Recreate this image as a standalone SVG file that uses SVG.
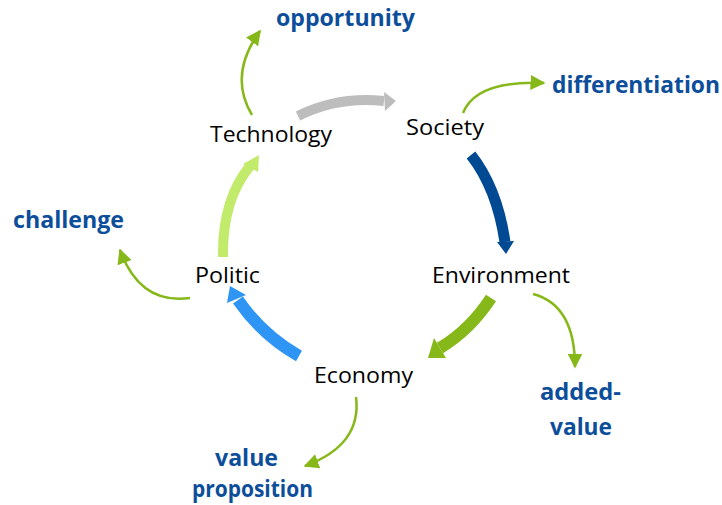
<svg xmlns="http://www.w3.org/2000/svg" width="722" height="505" viewBox="0 0 722 505">
<style>
.n{font-family:"Open Sans","Liberation Sans",sans-serif;font-size:21.5px;fill:#000}
.o{font-family:"Open Sans","Liberation Sans",sans-serif;font-size:23px;font-weight:bold;fill:#0D4E9B}
.thin{fill:none;stroke:#86B81A;stroke-width:2.5}
.thick{fill:none}
</style>
<defs>
<marker id="ht" viewBox="0 0 10 10" refX="9" refY="5" markerWidth="6" markerHeight="6" orient="auto" markerUnits="strokeWidth"><path d="M0,0 L10,5 L0,10 z" fill="#86B81A"/></marker>
</defs>
<rect width="722" height="505" fill="#fff"/>
<g id="connectors">
<path d="M298,116 Q338,96 384,101" stroke="#BDBDBD" stroke-width="10" class="thick"/>
<polygon points="384,92 396,101 385,111" fill="#BDBDBD"/>
<path d="M471,155 Q497,188 505,242" stroke="#004A94" stroke-width="11" class="thick"/>
<polygon points="497,242 514,241 506,254" fill="#004A94"/>
<path d="M491,298 Q470,330 440,348" stroke="#86B81A" stroke-width="12" class="thick"/>
<polygon points="434,338 446,358 428,358" fill="#86B81A"/>
<path d="M299,356 Q262,335 238,300" stroke="#2E95F5" stroke-width="12" class="thick"/>
<polygon points="227,303 246,295 230,286" fill="#2E95F5"/>
<path d="M223,257 Q222,200 250,166" stroke="#C3EB6B" stroke-width="10" class="thick"/>
<polygon points="243,164 259,155 258,172" fill="#C3EB6B"/>
<path d="M252,115 Q228,75 260,31" class="thin" marker-end="url(#ht)"/>
<path d="M463,113 Q476,80 544,83" class="thin" marker-end="url(#ht)"/>
<path d="M533,294 Q575,305 575,367" class="thin" marker-end="url(#ht)"/>
<path d="M356,397 Q362,445 305,466" class="thin" marker-end="url(#ht)"/>
<path d="M190,298 Q140,305 120,250" class="thin" marker-end="url(#ht)"/>
</g>
<g id="technology"><text class="n" x="210" y="142" textLength="122" lengthAdjust="spacingAndGlyphs">Technology</text></g>
<g id="society"><text class="n" x="406" y="135" textLength="78" lengthAdjust="spacingAndGlyphs">Society</text></g>
<g id="environment"><text class="n" x="432" y="283" textLength="138" lengthAdjust="spacingAndGlyphs">Environment</text></g>
<g id="economy"><text class="n" x="314" y="383" textLength="99" lengthAdjust="spacingAndGlyphs">Economy</text></g>
<g id="politic"><text class="n" x="195" y="283" textLength="65" lengthAdjust="spacingAndGlyphs">Politic</text></g>
<g id="opportunity"><text class="o" x="276" y="26" textLength="139" lengthAdjust="spacingAndGlyphs">opportunity</text></g>
<g id="differentiation"><text class="o" x="552" y="93" textLength="168" lengthAdjust="spacingAndGlyphs">differentiation</text></g>
<g id="added-value"><text class="o" x="540" y="400" textLength="81" lengthAdjust="spacingAndGlyphs">added-</text><text class="o" x="550" y="435" textLength="62" lengthAdjust="spacingAndGlyphs">value</text></g>
<g id="value-proposition"><text class="o" x="215" y="466" textLength="63" lengthAdjust="spacingAndGlyphs">value</text><text class="o" x="192" y="497" textLength="121" lengthAdjust="spacingAndGlyphs">proposition</text></g>
<g id="challenge"><text class="o" x="13" y="228" textLength="111" lengthAdjust="spacingAndGlyphs">challenge</text></g>
</svg>
